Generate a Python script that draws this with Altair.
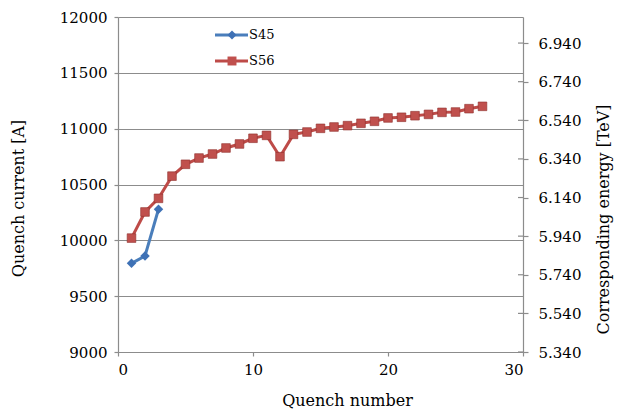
import altair as alt
import pandas as pd

# ---- data ----
s45_n = [1, 2, 3]
s45_i = [9794, 9860, 10278]

s56_n = list(range(1, 28))
s56_i = [10020, 10254, 10376, 10575, 10681, 10737, 10773, 10827, 10863, 10914,
         10940, 10749, 10949, 10970, 11003, 11015, 11027, 11048, 11066, 11096,
         11102, 11116, 11128, 11146, 11149, 11179, 11200]

left_ticks = [9000, 9500, 10000, 10500, 11000, 11500, 12000]
right_ticks = [5.34, 5.54, 5.74, 5.94, 6.14, 6.34, 6.54, 6.74, 6.94]
x_ticks = [0, 10, 20, 30]

BLUE_LINE = "#4A7EBB"
BLUE_MARK = "#3E71B5"
RED_LINE = "#BE4B48"
RED_MARK = "#C0504D"
FONT = "DejaVu Serif"

df45 = pd.DataFrame({"n": s45_n, "I": s45_i})
df56 = pd.DataFrame({"n": s56_n, "I": s56_i})
dfr = pd.DataFrame({"E": right_ticks})

W, H = 405, 335

xenc = alt.X("n:Q", scale=alt.Scale(domain=[0, 30], nice=False),
             axis=alt.Axis(values=x_ticks, grid=False, title="Quench number",
                           titleX=229, titleY=48, titleBaseline="middle",
                           tickSize=4, labelPadding=6))
yscale = alt.Scale(domain=[9000, 12000], nice=False, zero=False)
yenc = alt.Y("I:Q", scale=yscale,
             axis=alt.Axis(values=left_ticks, grid=True, title="Quench current [A]",
                           format="d",
                           titleX=-100, titleY=181, titleBaseline="middle",
                           tickSize=4, labelPadding=7))

line45 = alt.Chart(df45).mark_line(color=BLUE_LINE, strokeWidth=3).encode(x=xenc, y=yenc)
pts45 = alt.Chart(df45).mark_point(shape="diamond", filled=True, size=90, color=BLUE_MARK,
                                   opacity=1).encode(x="n:Q", y="I:Q")
line56 = alt.Chart(df56).mark_line(color=RED_LINE, strokeWidth=3).encode(x="n:Q", y="I:Q")
pts56 = alt.Chart(df56).mark_point(shape="square", filled=True, size=75, fill=RED_MARK,
                                   stroke="#8E2F2C", strokeWidth=0.6,
                                   opacity=1).encode(x="n:Q", y="I:Q")

# legend (manual)
def legend_item(name, y, line_color, shape, mark_color):
    d = pd.DataFrame({"s": [name]})
    rule = alt.Chart(d).mark_rule(color=line_color, strokeWidth=3).encode(
        x=alt.value(97), x2=alt.value(130), y=alt.value(y))
    pt = alt.Chart(d).mark_point(shape=shape, filled=True, size=80, color=mark_color,
                                 opacity=1).encode(x=alt.value(114), y=alt.value(y))
    tx = alt.Chart(d).mark_text(align="left", baseline="middle", font=FONT, fontSize=13,
                                color="black").encode(x=alt.value(131), y=alt.value(y),
                                                      text="s:N")
    return rule + pt + tx

leg = legend_item("S45", 18, BLUE_LINE, "diamond", BLUE_MARK) + \
      legend_item("S56", 44, RED_LINE, "square", RED_MARK)

left = alt.layer(line45, line56, pts45, pts56, leg)

ryenc = alt.Y("E:Q", scale=alt.Scale(domain=[5.34, 7.075], nice=False, zero=False),
              axis=alt.Axis(orient="right", values=right_ticks, format=".3f", grid=False,
                            title="Corresponding energy [TeV]", titleAngle=270,
                            titleX=80, titleY=202, titleBaseline="middle",
                            tickSize=5, labelPadding=10))
right_pts = alt.Chart(dfr).mark_point(opacity=0).encode(y=ryenc)
# inner half of the crossing tick marks on the right axis
right_inner = alt.Chart(dfr).mark_rule(color="#8C8C8C", strokeWidth=1.2).encode(
    y="E:Q", x=alt.value(W - 5), x2=alt.value(W))
right = alt.layer(right_pts, right_inner)

chart = alt.layer(left, right).resolve_scale(y="independent").properties(
    width=W, height=H,
    autosize=alt.AutoSizeParams(type="none"),
    padding={"left": 110, "top": 9, "right": 94, "bottom": 57},
    background="white",
).configure_view(stroke=None).configure_axis(
    labelFont=FONT, titleFont=FONT, labelFontSize=15, titleFontSize=16,
    titleFontWeight="normal", labelColor="black", titleColor="black",
    domainColor="#8C8C8C", tickColor="#8C8C8C", gridColor="#8C8C8C",
    domainWidth=1.2, gridWidth=1, tickWidth=1.2,
)

chart.save("out.html", embed_options={"renderer": "svg", "actions": False})
